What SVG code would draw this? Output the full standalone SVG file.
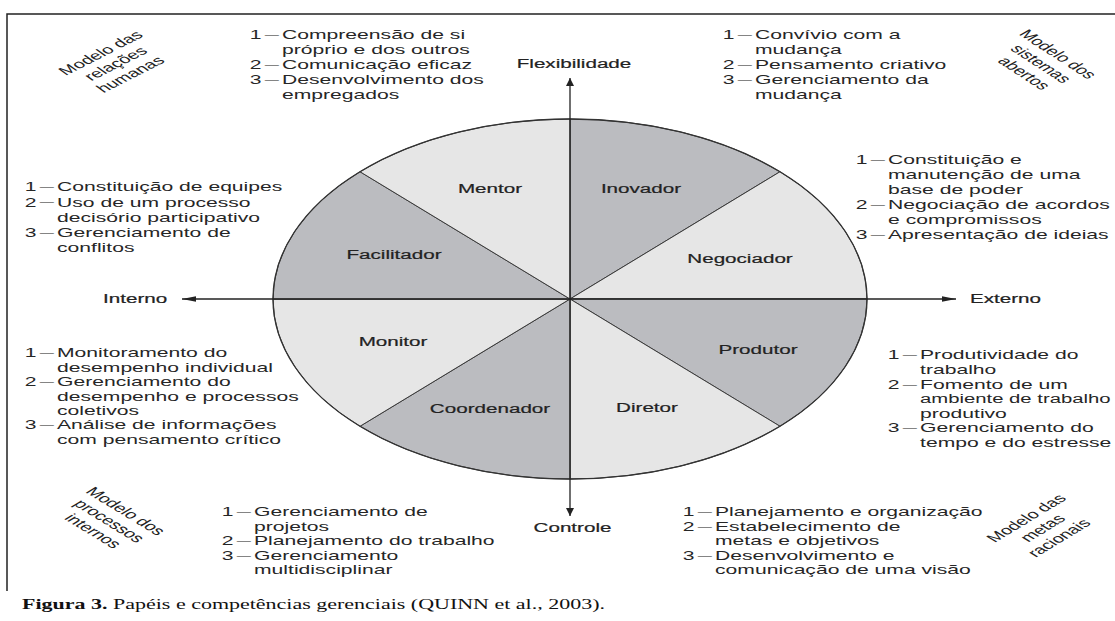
<svg xmlns="http://www.w3.org/2000/svg" width="1115" height="621" viewBox="0 0 1115 621">
<style>
text{font-family:"Liberation Sans",Arial,Helvetica,sans-serif;fill:#222;}
.list text{font-size:12.8px;fill:#262626;}
.d{font-size:8.6px;}
.lbl{font-size:12.5px;text-anchor:middle;stroke:#222;stroke-width:0.2;}
.ax{font-size:12.5px;stroke:#222;stroke-width:0.2;}
.model text{font-size:12px;text-anchor:middle;}
.dark{fill:#bbbcc0;stroke:#3a3a3a;stroke-width:1;}
.light{fill:#e6e6e6;stroke:#3a3a3a;stroke-width:1;}
.axis{stroke:#222;stroke-width:1.3;fill:none;}
.cap{font-family:"Liberation Serif","Times New Roman",serif;font-size:15px;fill:#111;}
</style>
<defs>
<marker id="ahH" markerUnits="userSpaceOnUse" markerWidth="16" markerHeight="8" refX="14" refY="3" orient="auto-start-reverse" viewBox="0 0 16 8" overflow="visible">
<path d="M0,0.3 L14,3 L0,5.7 Z" fill="#222"/>
</marker>
<marker id="ahV" markerUnits="userSpaceOnUse" markerWidth="10" markerHeight="10" refX="8" refY="4" orient="auto-start-reverse" viewBox="0 0 10 10" overflow="visible">
<path d="M0,0 L8,4 L0,8 Z" fill="#222"/>
</marker>
</defs>
<rect width="1115" height="621" fill="#fff"/>
<path d="M1115,14 H7 V591" fill="none" stroke="#222" stroke-width="1.5"/>

<g id="inovador"><path class="dark" d="M570,299 L570,119 A297,180 0 0 1 780,171.72 Z"/><text class="lbl" transform="translate(641,193) scale(1.65,1)">Inovador</text></g>
<g id="negociador"><path class="light" d="M570,299 L780,171.72 A297,180 0 0 1 867,299 Z"/><text class="lbl" transform="translate(740,263) scale(1.65,1)">Negociador</text></g>
<g id="produtor"><path class="dark" d="M570,299 L867,299 A297,180 0 0 1 780,426.28 Z"/><text class="lbl" transform="translate(758,354) scale(1.65,1)">Produtor</text></g>
<g id="diretor"><path class="light" d="M570,299 L780,426.28 A297,180 0 0 1 570,479 Z"/><text class="lbl" transform="translate(647,412) scale(1.65,1)">Diretor</text></g>
<g id="coordenador"><path class="dark" d="M570,299 L570,479 A297,180 0 0 1 360,426.28 Z"/><text class="lbl" transform="translate(490,413) scale(1.65,1)">Coordenador</text></g>
<g id="monitor"><path class="light" d="M570,299 L360,426.28 A297,180 0 0 1 273,299 Z"/><text class="lbl" transform="translate(393,346) scale(1.65,1)">Monitor</text></g>
<g id="facilitador"><path class="dark" d="M570,299 L273,299 A297,180 0 0 1 360,171.72 Z"/><text class="lbl" transform="translate(394,259) scale(1.65,1)">Facilitador</text></g>
<g id="mentor"><path class="light" d="M570,299 L360,171.72 A297,180 0 0 1 570,119 Z"/><text class="lbl" transform="translate(490,193) scale(1.65,1)">Mentor</text></g>
<ellipse cx="570" cy="299" rx="297" ry="180" fill="none" stroke="#333" stroke-width="1.3"/>

<g id="connectors">
<line class="axis" x1="570" y1="78" x2="570" y2="516" marker-start="url(#ahV)" marker-end="url(#ahV)"/>
<line class="axis" x1="182" y1="299" x2="956" y2="299" marker-start="url(#ahH)" marker-end="url(#ahH)"/>
</g>

<g id="axis-labels">
<text class="ax" text-anchor="middle" transform="translate(574,68) scale(1.65,1)">Flexibilidade</text>
<text class="ax" transform="translate(103,303) scale(1.65,1)">Interno</text>
<text class="ax" transform="translate(970,303) scale(1.65,1)">Externo</text>
<text class="ax" text-anchor="middle" transform="translate(572.5,532) scale(1.65,1)">Controle</text>
</g>

<g id="comp-mentor" class="list" transform="translate(253,0) scale(1.65,1)">
<text y="39.5"><tspan x="-2">1</tspan><tspan class="d" x="7.2" dy="-1.1">—</tspan><tspan x="17.6" dy="1.1">Compreensão de si</tspan></text>
<text x="17.6" y="54.5">próprio e dos outros</text>
<text y="69.5"><tspan x="-2">2</tspan><tspan class="d" x="7.2" dy="-1.1">—</tspan><tspan x="17.6" dy="1.1">Comunicação eficaz</tspan></text>
<text y="84.5"><tspan x="-2">3</tspan><tspan class="d" x="7.2" dy="-1.1">—</tspan><tspan x="17.6" dy="1.1">Desenvolvimento dos</tspan></text>
<text x="17.6" y="99.5">empregados</text>
</g>

<g id="comp-inovador" class="list" transform="translate(726,0) scale(1.65,1)">
<text y="39.5"><tspan x="-2">1</tspan><tspan class="d" x="7.2" dy="-1.1">—</tspan><tspan x="17.6" dy="1.1">Convívio com a</tspan></text>
<text x="17.6" y="54.5">mudança</text>
<text y="69.5"><tspan x="-2">2</tspan><tspan class="d" x="7.2" dy="-1.1">—</tspan><tspan x="17.6" dy="1.1">Pensamento criativo</tspan></text>
<text y="84.5"><tspan x="-2">3</tspan><tspan class="d" x="7.2" dy="-1.1">—</tspan><tspan x="17.6" dy="1.1">Gerenciamento da</tspan></text>
<text x="17.6" y="99.5">mudança</text>
</g>

<g id="comp-facilitador" class="list" transform="translate(28,0) scale(1.65,1)">
<text y="191.5"><tspan x="-2">1</tspan><tspan class="d" x="7.2" dy="-1.1">—</tspan><tspan x="17.6" dy="1.1">Constituição de equipes</tspan></text>
<text y="206.6"><tspan x="-2">2</tspan><tspan class="d" x="7.2" dy="-1.1">—</tspan><tspan x="17.6" dy="1.1">Uso de um processo</tspan></text>
<text x="17.6" y="221.7">decisório participativo</text>
<text y="236.8"><tspan x="-2">3</tspan><tspan class="d" x="7.2" dy="-1.1">—</tspan><tspan x="17.6" dy="1.1">Gerenciamento de</tspan></text>
<text x="17.6" y="251.9">conflitos</text>
</g>

<g id="comp-monitor" class="list" transform="translate(28,0) scale(1.65,1)">
<text y="357.5"><tspan x="-2">1</tspan><tspan class="d" x="7.2" dy="-1.1">—</tspan><tspan x="17.6" dy="1.1">Monitoramento do</tspan></text>
<text x="17.6" y="371.9">desempenho individual</text>
<text y="386.3"><tspan x="-2">2</tspan><tspan class="d" x="7.2" dy="-1.1">—</tspan><tspan x="17.6" dy="1.1">Gerenciamento do</tspan></text>
<text x="17.6" y="400.7">desempenho e processos</text>
<text x="17.6" y="415.1">coletivos</text>
<text y="429.5"><tspan x="-2">3</tspan><tspan class="d" x="7.2" dy="-1.1">—</tspan><tspan x="17.6" dy="1.1">Análise de informações</tspan></text>
<text x="17.6" y="443.9">com pensamento crítico</text>
</g>

<g id="comp-negociador" class="list" transform="translate(859,0) scale(1.65,1)">
<text y="164.5"><tspan x="-2">1</tspan><tspan class="d" x="7.2" dy="-1.1">—</tspan><tspan x="17.6" dy="1.1">Constituição e</tspan></text>
<text x="17.6" y="179.5">manutenção de uma</text>
<text x="17.6" y="194.5">base de poder</text>
<text y="209.5"><tspan x="-2">2</tspan><tspan class="d" x="7.2" dy="-1.1">—</tspan><tspan x="17.6" dy="1.1">Negociação de acordos</tspan></text>
<text x="17.6" y="224.5">e compromissos</text>
<text y="239.5"><tspan x="-2">3</tspan><tspan class="d" x="7.2" dy="-1.1">—</tspan><tspan x="17.6" dy="1.1">Apresentação de ideias</tspan></text>
</g>

<g id="comp-produtor" class="list" transform="translate(891,0) scale(1.65,1)">
<text y="359.5"><tspan x="-2">1</tspan><tspan class="d" x="7.2" dy="-1.1">—</tspan><tspan x="17.6" dy="1.1">Produtividade do</tspan></text>
<text x="17.6" y="374.1">trabalho</text>
<text y="388.7"><tspan x="-2">2</tspan><tspan class="d" x="7.2" dy="-1.1">—</tspan><tspan x="17.6" dy="1.1">Fomento de um</tspan></text>
<text x="17.6" y="403.3" style="font-size:12.3px">ambiente de trabalho</text>
<text x="17.6" y="417.9">produtivo</text>
<text y="432.5"><tspan x="-2">3</tspan><tspan class="d" x="7.2" dy="-1.1">—</tspan><tspan x="17.6" dy="1.1">Gerenciamento do</tspan></text>
<text x="17.6" y="447.1">tempo e do estresse</text>
</g>

<g id="comp-coordenador" class="list" transform="translate(225,0) scale(1.65,1)">
<text y="516.5"><tspan x="-2">1</tspan><tspan class="d" x="7.2" dy="-1.1">—</tspan><tspan x="17.6" dy="1.1">Gerenciamento de</tspan></text>
<text x="17.6" y="530.9">projetos</text>
<text y="545.3"><tspan x="-2">2</tspan><tspan class="d" x="7.2" dy="-1.1">—</tspan><tspan x="17.6" dy="1.1">Planejamento do trabalho</tspan></text>
<text y="559.7"><tspan x="-2">3</tspan><tspan class="d" x="7.2" dy="-1.1">—</tspan><tspan x="17.6" dy="1.1">Gerenciamento</tspan></text>
<text x="17.6" y="574.1">multidisciplinar</text>
</g>

<g id="comp-diretor" class="list" transform="translate(686,0) scale(1.65,1)">
<text y="516.5"><tspan x="-2">1</tspan><tspan class="d" x="7.2" dy="-1.1">—</tspan><tspan x="17.6" dy="1.1">Planejamento e organização</tspan></text>
<text y="530.9"><tspan x="-2">2</tspan><tspan class="d" x="7.2" dy="-1.1">—</tspan><tspan x="17.6" dy="1.1">Estabelecimento de</tspan></text>
<text x="17.6" y="545.3">metas e objetivos</text>
<text y="559.7"><tspan x="-2">3</tspan><tspan class="d" x="7.2" dy="-1.1">—</tspan><tspan x="17.6" dy="1.1">Desenvolvimento e</tspan></text>
<text x="17.6" y="574.1">comunicação de uma visão</text>
</g>

<g id="model-relacoes-humanas" class="model" transform="translate(105,56) scale(1.65,1) rotate(-40)">
<text y="0">Modelo das</text><text y="14">relações</text><text y="28">humanas</text>
</g>
<g id="model-sistemas-abertos" class="model" transform="translate(1053,57) scale(1.65,1) rotate(47)">
<text y="0">Modelo dos</text><text y="14">sistemas</text><text y="28">abertos</text>
</g>
<g id="model-processos-internos" class="model" transform="translate(121,514) scale(1.65,1) rotate(45)">
<text y="0">Modelo dos</text><text y="14">processos</text><text y="28">internos</text>
</g>
<g id="model-metas-racionais" class="model" transform="translate(1031,521) scale(1.65,1) rotate(-45)">
<text y="0">Modelo das</text><text y="14">metas</text><text y="28">racionais</text>
</g>

<text class="cap" x="22" y="609" textLength="583" lengthAdjust="spacingAndGlyphs"><tspan font-weight="bold">Figura 3.</tspan> Papéis e competências gerenciais (QUINN et al., 2003).</text>
</svg>
